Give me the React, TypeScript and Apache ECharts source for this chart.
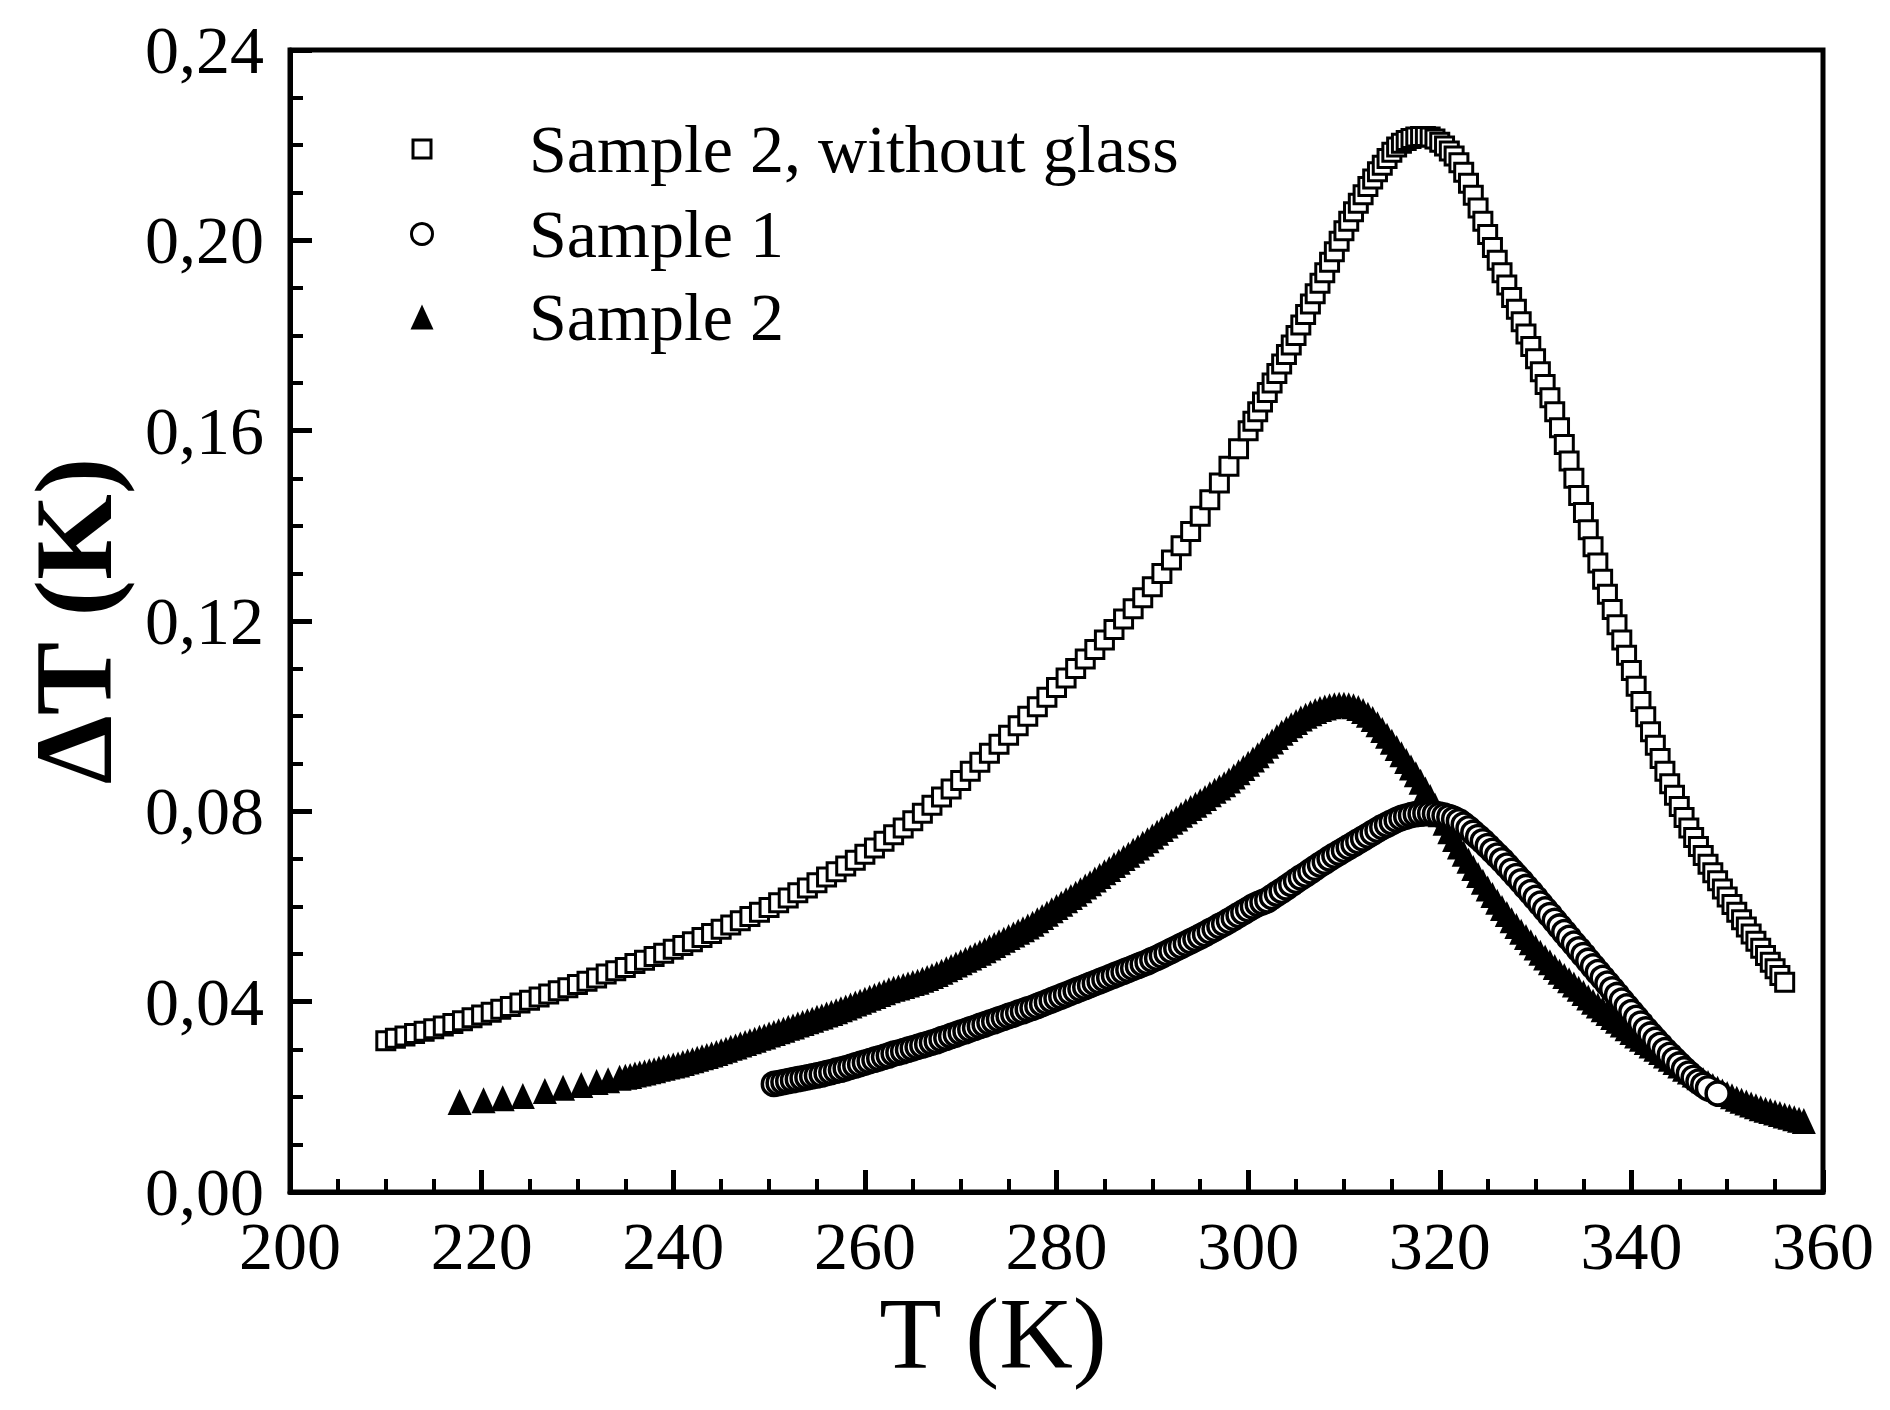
import React, { useEffect, useRef } from "react";
import * as echarts from "echarts";

const X_TICKS = ["200", "220", "240", "260", "280", "300", "320", "340", "360"];
const Y_TICKS = ["0,00", "0,04", "0,08", "0,12", "0,16", "0,20", "0,24"];
const LEGEND_NAMES = ["Sample 2, without glass", "Sample 1", "Sample 2"];

// Sample 2, without glass (open squares): [T (K), ΔT (K)]
const sample2NoGlass: [number, number][] = [
  [210, 0.0318], [211, 0.0323], [212, 0.0328], [213, 0.0333], [214, 0.0338], [215, 0.0343], [216, 0.0349], [217, 0.0354], [218, 0.036], [219, 0.0366],
  [220, 0.0372], [221, 0.0378], [222, 0.0384], [223, 0.039], [224, 0.0397], [225, 0.0403], [226, 0.041], [227, 0.0416], [228, 0.0423], [229, 0.0429],
  [230, 0.0436], [231, 0.0443], [232, 0.045], [233, 0.0458], [234, 0.0465], [235, 0.0472], [236, 0.048], [237, 0.0487], [238, 0.0495], [239, 0.0502],
  [240, 0.051], [241, 0.0518], [242, 0.0526], [243, 0.0535], [244, 0.0543], [245, 0.0552], [246, 0.0561], [247, 0.057], [248, 0.0579], [249, 0.0588],
  [250, 0.0598], [251, 0.0608], [252, 0.0618], [253, 0.0629], [254, 0.0639], [255, 0.065], [256, 0.0662], [257, 0.0673], [258, 0.0685], [259, 0.0697],
  [260, 0.071], [261, 0.0723], [262, 0.0737], [263, 0.0751], [264, 0.0765], [265, 0.078], [266, 0.0796], [267, 0.0813], [268, 0.083], [269, 0.0847],
  [270, 0.0865], [271, 0.0884], [272, 0.0903], [273, 0.0922], [274, 0.0941], [275, 0.096], [276, 0.098], [277, 0.1], [278, 0.102], [279, 0.104],
  [280, 0.106], [281, 0.108], [282, 0.11], [283, 0.112], [284, 0.114], [285, 0.116], [286, 0.1182], [287, 0.1204], [288, 0.1226], [289, 0.1249],
  [290, 0.1272], [291, 0.13], [292, 0.1328], [293, 0.1358], [294, 0.1388], [295, 0.142], [296, 0.1455], [297, 0.149], [298, 0.1525], [299, 0.1562],
  [300, 0.16], [300.5, 0.162], [301, 0.164], [301.5, 0.166], [302, 0.168], [302.5, 0.17], [303, 0.172], [303.5, 0.174], [304, 0.176], [304.5, 0.178],
  [305, 0.18], [305.5, 0.1822], [306, 0.1844], [306.5, 0.1866], [307, 0.1888], [307.5, 0.191], [308, 0.1932], [308.5, 0.1954], [309, 0.1976], [309.5, 0.1998],
  [310, 0.202], [310.5, 0.204], [311, 0.206], [311.5, 0.2078], [312, 0.2096], [312.5, 0.2113], [313, 0.2129], [313.5, 0.2144], [314, 0.2158], [314.5, 0.2172],
  [315, 0.2185], [315.5, 0.2196], [316, 0.2204], [316.5, 0.221], [317, 0.2214], [317.5, 0.2217], [318, 0.2218], [318.5, 0.2218], [319, 0.2217], [319.5, 0.2213],
  [320, 0.2206], [320.5, 0.2198], [321, 0.2188], [321.5, 0.2177], [322, 0.2163], [322.5, 0.2143], [323, 0.212], [323.5, 0.2095], [324, 0.2068], [324.5, 0.204],
  [325, 0.2012], [325.5, 0.1985], [326, 0.1958], [326.5, 0.1932], [327, 0.1906], [327.5, 0.188], [328, 0.1855], [328.5, 0.1829], [329, 0.1803], [329.5, 0.1777],
  [330, 0.1751], [330.5, 0.1724], [331, 0.1697], [331.5, 0.1669], [332, 0.164], [332.5, 0.1606], [333, 0.1571], [333.5, 0.1536], [334, 0.15], [334.5, 0.1464],
  [335, 0.1428], [335.5, 0.1392], [336, 0.1356], [336.5, 0.1322], [337, 0.1288], [337.5, 0.1256], [338, 0.1224], [338.5, 0.1192], [339, 0.116], [339.5, 0.1128],
  [340, 0.1096], [340.5, 0.1063], [341, 0.1031], [341.5, 0.0999], [342, 0.0967], [342.5, 0.0939], [343, 0.0911], [343.5, 0.0884], [344, 0.0858], [344.5, 0.0834],
  [345, 0.081], [345.5, 0.0787], [346, 0.0765], [346.5, 0.0745], [347, 0.0726], [347.5, 0.0707], [348, 0.0689], [348.5, 0.0671], [349, 0.0654], [349.5, 0.0637],
  [350, 0.062], [350.5, 0.0604], [351, 0.0588], [351.5, 0.0572], [352, 0.0557], [352.5, 0.0542], [353, 0.0527], [353.5, 0.0512], [354, 0.0497], [354.5, 0.0483],
  [355, 0.0469], [355.5, 0.0455], [356, 0.0441],
];

// Sample 1 (open circles)
const sample1: [number, number][] = [
  [250.5, 0.0227], [251, 0.0229], [251.5, 0.0231], [252, 0.0233], [252.5, 0.0235], [253, 0.0237], [253.5, 0.0239], [254, 0.0241], [254.5, 0.0243], [255, 0.0245],
  [255.5, 0.0247], [256, 0.025], [256.5, 0.0252], [257, 0.0255], [257.5, 0.0257], [258, 0.026], [258.5, 0.0263], [259, 0.0266], [259.5, 0.0269], [260, 0.0272],
  [260.5, 0.0275], [261, 0.0278], [261.5, 0.0281], [262, 0.0284], [262.5, 0.0287], [263, 0.0291], [263.5, 0.0293], [264, 0.0296], [264.5, 0.0299], [265, 0.0302],
  [265.5, 0.0305], [266, 0.0308], [266.5, 0.0311], [267, 0.0314], [267.5, 0.0317], [268, 0.0321], [268.5, 0.0324], [269, 0.0328], [269.5, 0.0331], [270, 0.0335],
  [270.5, 0.0338], [271, 0.0342], [271.5, 0.0345], [272, 0.0349], [272.5, 0.0352], [273, 0.0356], [273.5, 0.0359], [274, 0.0363], [274.5, 0.0366], [275, 0.037],
  [275.5, 0.0373], [276, 0.0377], [276.5, 0.038], [277, 0.0384], [277.5, 0.0387], [278, 0.0391], [278.5, 0.0395], [279, 0.0399], [279.5, 0.0403], [280, 0.0407],
  [280.5, 0.0411], [281, 0.0415], [281.5, 0.0419], [282, 0.0423], [282.5, 0.0427], [283, 0.0431], [283.5, 0.0435], [284, 0.0439], [284.5, 0.0443], [285, 0.0447],
  [285.5, 0.0451], [286, 0.0455], [286.5, 0.0459], [287, 0.0463], [287.5, 0.0467], [288, 0.0471], [288.5, 0.0475], [289, 0.0479], [289.5, 0.0483], [290, 0.0488],
  [290.5, 0.0492], [291, 0.0497], [291.5, 0.0502], [292, 0.0507], [292.5, 0.0512], [293, 0.0517], [293.5, 0.0522], [294, 0.0527], [294.5, 0.0532], [295, 0.0537],
  [295.5, 0.0542], [296, 0.0548], [296.5, 0.0553], [297, 0.0559], [297.5, 0.0564], [298, 0.057], [298.5, 0.0576], [299, 0.0582], [299.5, 0.0588], [300, 0.0594],
  [300.5, 0.06], [301, 0.0605], [301.5, 0.0609], [302, 0.0613], [302.5, 0.062], [303, 0.0627], [303.5, 0.0633], [304, 0.064], [304.5, 0.0647],
  [305, 0.0654], [305.5, 0.0661], [306, 0.0667], [306.5, 0.0674], [307, 0.0681], [307.5, 0.0688], [308, 0.0694], [308.5, 0.0701], [309, 0.0707], [309.5, 0.0713],
  [310, 0.0719], [310.5, 0.0725], [311, 0.0731], [311.5, 0.0737], [312, 0.0743], [312.5, 0.0749], [313, 0.0755], [313.5, 0.0761], [314, 0.0767], [314.5, 0.0772],
  [315, 0.0777], [315.5, 0.0782], [316, 0.0786], [316.5, 0.0789], [317, 0.0792], [317.5, 0.0794], [318, 0.0795], [318.5, 0.0796], [319, 0.0796], [319.5, 0.0795],
  [320, 0.0793], [320.5, 0.0791], [321, 0.0788], [321.5, 0.0784], [322, 0.0779], [322.5, 0.0772], [323, 0.0764], [323.5, 0.0755], [324, 0.0746], [324.5, 0.0737],
  [325, 0.0727], [325.5, 0.0717], [326, 0.0707], [326.5, 0.0697], [327, 0.0686], [327.5, 0.0675], [328, 0.0664], [328.5, 0.0653], [329, 0.0641], [329.5, 0.063],
  [330, 0.0618], [330.5, 0.0606], [331, 0.0594], [331.5, 0.0582], [332, 0.057], [332.5, 0.0558], [333, 0.0546], [333.5, 0.0534], [334, 0.0522], [334.5, 0.051],
  [335, 0.0498], [335.5, 0.0486], [336, 0.0474], [336.5, 0.0462], [337, 0.045], [337.5, 0.0438], [338, 0.0426], [338.5, 0.0414], [339, 0.0402], [339.5, 0.039],
  [340, 0.0378], [340.5, 0.0366], [341, 0.0354], [341.5, 0.0342], [342, 0.0331], [342.5, 0.032], [343, 0.0309], [343.5, 0.0298], [344, 0.0288], [344.5, 0.0278],
  [345, 0.0268], [345.5, 0.0258], [346, 0.0249], [346.5, 0.024], [347, 0.0232], [347.5, 0.0225], [348, 0.0218], [349, 0.0207],
];

// Sample 2 (filled triangles)
const sample2: [number, number][] = [
  [217.7, 0.0189], [220.2, 0.0193], [222.2, 0.0197], [224.3, 0.0202], [226.6, 0.0212], [228.5, 0.0219], [230.4, 0.0225], [232, 0.0231], [233.2, 0.0235], [234.4, 0.024],
  [235, 0.0242], [235.5, 0.0244], [236, 0.0247], [236.5, 0.0249], [237, 0.0251], [237.5, 0.0254], [238, 0.0256], [238.5, 0.0259], [239, 0.0261], [239.5, 0.0264],
  [240, 0.0266], [240.5, 0.0268], [241, 0.0271], [241.5, 0.0274], [242, 0.0277], [242.5, 0.028], [243, 0.0283], [243.5, 0.0286], [244, 0.0289], [244.5, 0.0292],
  [245, 0.0296], [245.5, 0.0299], [246, 0.0303], [246.5, 0.0306], [247, 0.031], [247.5, 0.0313], [248, 0.0317], [248.5, 0.032], [249, 0.0324], [249.5, 0.0327],
  [250, 0.0331], [250.5, 0.0334], [251, 0.0338], [251.5, 0.0341], [252, 0.0345], [252.5, 0.0348], [253, 0.0352], [253.5, 0.0355], [254, 0.0359], [254.5, 0.0362],
  [255, 0.0366], [255.5, 0.0369], [256, 0.0373], [256.5, 0.0376], [257, 0.038], [257.5, 0.0384], [258, 0.0388], [258.5, 0.0392], [259, 0.0396], [259.5, 0.04],
  [260, 0.0404], [260.5, 0.0408], [261, 0.0412], [261.5, 0.0416], [262, 0.042], [262.5, 0.0424], [263, 0.0427], [263.5, 0.043], [264, 0.0433], [264.5, 0.0436],
  [265, 0.0439], [265.5, 0.0442], [266, 0.0446], [266.5, 0.045], [267, 0.0454], [267.5, 0.0458], [268, 0.0463], [268.5, 0.0468], [269, 0.0473], [269.5, 0.0478],
  [270, 0.0483], [270.5, 0.0488], [271, 0.0493], [271.5, 0.0498], [272, 0.0503], [272.5, 0.0508], [273, 0.0514], [273.5, 0.0519], [274, 0.0525], [274.5, 0.053],
  [275, 0.0536], [275.5, 0.0541], [276, 0.0547], [276.5, 0.0552], [277, 0.0558], [277.5, 0.0564], [278, 0.0571], [278.5, 0.0578], [279, 0.0585], [279.5, 0.0592],
  [280, 0.0599], [280.5, 0.0606], [281, 0.0613], [281.5, 0.062], [282, 0.0627], [282.5, 0.0634], [283, 0.0642], [283.5, 0.0649], [284, 0.0657], [284.5, 0.0664],
  [285, 0.0672], [285.5, 0.0679], [286, 0.0687], [286.5, 0.0694], [287, 0.0702], [287.5, 0.0709], [288, 0.0717], [288.5, 0.0724], [289, 0.0732], [289.5, 0.0739],
  [290, 0.0747], [290.5, 0.0755], [291, 0.0763], [291.5, 0.077], [292, 0.0778], [292.5, 0.0785], [293, 0.0793], [293.5, 0.08], [294, 0.0807], [294.5, 0.0814],
  [295, 0.0821], [295.5, 0.0828], [296, 0.0836], [296.5, 0.0843], [297, 0.085], [297.5, 0.0857], [298, 0.0865], [298.5, 0.0873], [299, 0.0882], [299.5, 0.0891],
  [300, 0.09], [300.5, 0.0909], [301, 0.0918], [301.5, 0.0928], [302, 0.0938],
  [302.5, 0.0947], [303, 0.0956], [303.5, 0.0965], [304, 0.0973], [304.5, 0.0981], [305, 0.0988], [305.5, 0.0995], [306, 0.1001], [306.5, 0.1006], [307, 0.1011],
  [307.5, 0.1015], [308, 0.1018], [308.5, 0.1021], [309, 0.1023], [309.5, 0.1024], [310, 0.1024], [310.5, 0.1023], [311, 0.1021], [311.5, 0.1017], [312, 0.1011],
  [312.5, 0.1003], [313, 0.0994], [313.5, 0.0983], [314, 0.0971], [314.5, 0.0959], [315, 0.0946], [315.5, 0.0933], [316, 0.092], [316.5, 0.0906], [317, 0.0892],
  [317.5, 0.0878], [318, 0.0862], [318.5, 0.0846], [319, 0.083], [319.5, 0.0812], [320, 0.0794], [320.5, 0.0776], [321, 0.0758], [321.5, 0.0742], [322, 0.0726],
  [322.5, 0.0711], [323, 0.0696], [323.5, 0.0681], [324, 0.0666], [324.5, 0.0652], [325, 0.0638], [325.5, 0.0624], [326, 0.061], [326.5, 0.0597], [327, 0.0584],
  [327.5, 0.0571], [328, 0.0559], [328.5, 0.0547], [329, 0.0536], [329.5, 0.0525], [330, 0.0514], [330.5, 0.0503], [331, 0.0493], [331.5, 0.0483], [332, 0.0473],
  [332.5, 0.0463], [333, 0.0454], [333.5, 0.0445], [334, 0.0436], [334.5, 0.0427], [335, 0.0418], [335.5, 0.0409], [336, 0.04], [336.5, 0.0392], [337, 0.0384],
  [337.5, 0.0376], [338, 0.0368], [338.5, 0.036], [339, 0.0352], [339.5, 0.0344], [340, 0.0336], [340.5, 0.0329], [341, 0.0322], [341.5, 0.0315], [342, 0.0308],
  [342.5, 0.0301], [343, 0.0294], [343.5, 0.0287], [344, 0.028], [344.5, 0.0273], [345, 0.0266], [345.5, 0.0259], [346, 0.0253], [346.5, 0.0247], [347, 0.0241],
  [347.5, 0.0235], [348, 0.0229], [348.5, 0.0223], [349, 0.0217], [349.5, 0.0211], [350, 0.0206], [350.5, 0.0201], [351, 0.0196], [351.5, 0.0192], [352, 0.0188],
  [352.5, 0.0184], [353, 0.018], [353.5, 0.0176], [354, 0.0173], [354.5, 0.017], [355, 0.0167], [355.5, 0.0164], [356, 0.0161], [356.5, 0.0158], [357, 0.0155],
  [357.5, 0.0152], [358, 0.0149],
];

const FONT = "'Liberation Serif', 'Times New Roman', serif";

export default function App() {
  const ref = useRef<HTMLDivElement>(null);

  useEffect(() => {
    if (!ref.current) return;
    const chart = echarts.init(ref.current, null, { renderer: "svg" });

    const gridLeft = 290;
    const gridTop = 50;
    const gridW = 1533;
    const gridH = 1142;

    const legendX = 422;
    const legendTextX = 529;
    const legendY = [149, 234, 317];

    const option: any = {
      animation: false,
      backgroundColor: "#ffffff",
      grid: {
        left: gridLeft,
        top: gridTop,
        width: gridW,
        height: gridH,
        show: true,
        borderColor: "#000",
        borderWidth: 5,
        backgroundColor: "transparent",
      },
      xAxis: {
        type: "value",
        min: 200,
        max: 360,
        interval: 20,
        axisLine: { show: true, onZero: false, lineStyle: { color: "#000", width: 5 } },
        axisTick: { show: true, inside: true, length: 22, lineStyle: { color: "#000", width: 5 } },
        minorTick: { show: true, splitNumber: 4, length: 13, lineStyle: { color: "#000", width: 4 } },
        splitLine: { show: false },
        minorSplitLine: { show: false },
        axisLabel: {
          margin: 20,
          fontFamily: FONT,
          fontSize: 68,
          color: "#000",
          formatter: (v: number) => X_TICKS[Math.round((v - 200) / 20)] ?? "",
        },
      },
      yAxis: {
        type: "value",
        min: 0,
        max: 0.24,
        interval: 0.04,
        axisLine: { show: true, onZero: false, lineStyle: { color: "#000", width: 5 } },
        axisTick: { show: true, inside: true, length: 22, lineStyle: { color: "#000", width: 5 } },
        minorTick: { show: true, splitNumber: 4, length: 13, lineStyle: { color: "#000", width: 4 } },
        splitLine: { show: false },
        minorSplitLine: { show: false },
        axisLabel: {
          margin: 26,
          fontFamily: FONT,
          fontSize: 68,
          color: "#000",
          formatter: (v: number) => Y_TICKS[Math.round(v / 0.04)] ?? "",
        },
      },
      series: [
        {
          name: LEGEND_NAMES[0],
          type: "scatter",
          data: sample2NoGlass,
          symbol: "rect",
          symbolSize: 18,
          silent: true,
          itemStyle: { color: "#fff", borderColor: "#000", borderWidth: 3, opacity: 1 },
          z: 2,
        },
        {
          name: LEGEND_NAMES[2],
          type: "scatter",
          data: sample2,
          symbol: "triangle",
          symbolSize: [24, 26],
          silent: true,
          itemStyle: { color: "#000", opacity: 1 },
          z: 3,
        },
        {
          name: LEGEND_NAMES[1],
          type: "scatter",
          data: sample1,
          symbol: "circle",
          symbolSize: 23,
          silent: true,
          itemStyle: { color: "#fff", borderColor: "#000", borderWidth: 3.5, opacity: 1 },
          z: 4,
        },
      ],
      graphic: [
        {
          type: "rect",
          shape: { x: legendX - 9, y: legendY[0] - 9, width: 18, height: 18 },
          style: { fill: "#fff", stroke: "#000", lineWidth: 3 },
        },
        {
          type: "text",
          x: legendTextX,
          y: legendY[0],
          style: { text: LEGEND_NAMES[0], font: `68px ${FONT}`, fill: "#000", textAlign: "left", textVerticalAlign: "middle" },
        },
        {
          type: "circle",
          shape: { cx: legendX, cy: legendY[1], r: 10.5 },
          style: { fill: "#fff", stroke: "#000", lineWidth: 3 },
        },
        {
          type: "text",
          x: legendTextX,
          y: legendY[1],
          style: { text: LEGEND_NAMES[1], font: `68px ${FONT}`, fill: "#000", textAlign: "left", textVerticalAlign: "middle" },
        },
        {
          type: "polygon",
          shape: {
            points: [
              [legendX, legendY[2] - 12.5],
              [legendX + 11.5, legendY[2] + 12.5],
              [legendX - 11.5, legendY[2] + 12.5],
            ],
          },
          style: { fill: "#000" },
        },
        {
          type: "text",
          x: legendTextX,
          y: legendY[2],
          style: { text: LEGEND_NAMES[2], font: `68px ${FONT}`, fill: "#000", textAlign: "left", textVerticalAlign: "middle" },
        },
        {
          type: "text",
          x: 993,
          y: 1333,
          style: { text: "T (K)", font: `102px ${FONT}`, fill: "#000", textAlign: "center", textVerticalAlign: "middle" },
        },
        {
          type: "text",
          x: 74,
          y: 621,
          rotation: Math.PI / 2,
          style: { text: "ΔT (K)", font: `bold 110px ${FONT}`, fill: "#000", textAlign: "center", textVerticalAlign: "middle" },
        },
      ],
    };

    chart.setOption(option);
    return () => {
      chart.dispose();
    };
  }, []);

  return (
    <div
      ref={ref}
      style={{ position: "absolute", left: 0, top: 0, width: 1890, height: 1410, background: "#fff" }}
    />
  );
}
